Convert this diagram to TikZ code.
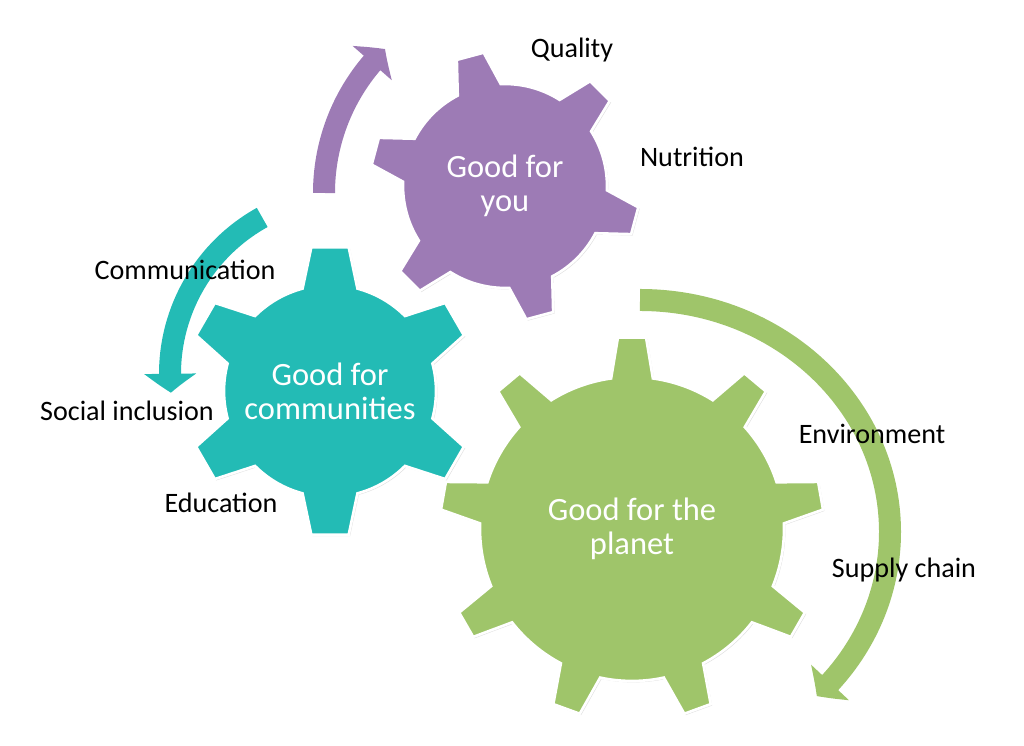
\documentclass[tikz,border=0pt]{standalone}
\usepackage{fontspec}
\setmainfont{Carlito}
\usepackage{tikz}
\usetikzlibrary{arrows.meta,bending,shadows,positioning}

\definecolor{gearpurple}{RGB}{157,123,181}
\definecolor{gearteal}{RGB}{35,187,181}
\definecolor{geargreen}{RGB}{159,197,106}

\tikzstyle{gearbody} = [draw=white, line width=1.5pt, line join=miter, drop shadow={opacity=0.25, shadow xshift=0.8pt, shadow yshift=-0.8pt}]
\tikzstyle{geartext} = [align=center, text=white, font=\fontsize{18.5}{19.5}\selectfont]
\tikzstyle{lbl} = [font=\fontsize{16}{19}\selectfont, text=black]
\tikzstyle{turn} = [line width=0.44cm, -{Triangle[width=1.02cm, length=0.38cm, bend]}]

% gear: style, centre, teeth, first tooth angle, tip radius, base radius, tip half angle, base half angle
\newcommand{\gear}[8]{%
  \path[gearbody, #1, shift={(#2)}] ({#4-#8}:#6)
    \foreach \k [evaluate=\k as \ta using #4+(\k-1)*360/#3] in {1,...,#3} {
      -- (\ta-#8:#6) -- (\ta-#7:#5) -- (\ta+#7:#5) -- (\ta+#8:#6)
      arc[start angle=\ta+#8, end angle=\ta+360/#3-#8, radius=#6]
    } -- cycle;
}

\begin{document}
\begin{tikzpicture}[x=0.02cm, y=0.02cm]
    \useasboundingbox (0,0) rectangle (1024,746);
    % Centres
    \coordinate (planet) at (632,217);
    \coordinate (you) at (505,560);
    \coordinate (comm) at (330,355);
    \coordinate (youturn) at (524,553);
    \coordinate (commturn) at (349,372);
    \coordinate (planetturn) at (640,214);
    % Draw arrows
    \draw [turn, draw=gearpurple] (youturn) ++(180:200) arc[start angle=180, end angle=134, radius=200];
    \draw [turn, draw=gearteal] (commturn) ++(119:179) arc[start angle=119, end angle=186, radius=179];
    \draw [turn, draw=geargreen] (planetturn) ++(0,232) arc[start angle=90, end angle=-45, x radius=250, y radius=232];
    % Place gears
    \gear{fill=geargreen}{planet}{9}{90}{192}{152}{4.2}{7.9}
    \gear{fill=gearpurple}{you}{6}{105}{135}{102}{5.9}{12.6}
    \gear{fill=gearteal}{comm}{6}{90}{145}{106}{7.4}{15}
    \node [geartext] (planettxt) at (planet) {Good for the\\planet};
    \node [geartext] (youtxt) at (you) {Good for\\you};
    \node [geartext] (commtxt) at (comm) {Good for\\communities};
    % Labels
    \node [lbl] (quality) at (572,696) {Quality};
    \node [lbl] (nutrition) at (692,589) {Nutrition};
    \node [lbl] (communication) at (185,476) {Communication};
    \node [lbl] (inclusion) at (127,335) {Social inclusion};
    \node [lbl] (education) at (221,243) {Education};
    \node [lbl] (environment) at (872,312) {Environment};
    \node [lbl] (supply) at (904,176) {Supply chain};
\end{tikzpicture}
\end{document}
